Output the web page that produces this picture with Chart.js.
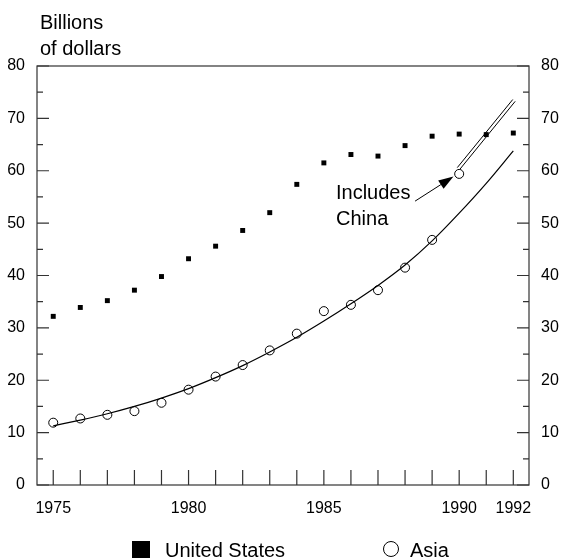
<!DOCTYPE html>
<html>
<head>
<meta charset="utf-8">
<script src="https://cdn.jsdelivr.net/npm/chart.js@4.4.1/dist/chart.umd.min.js"></script>
<style>
  html, body { margin: 0; padding: 0; background: #fff; }
  #wrap { width: 565px; height: 559px; }
</style>
</head>
<body>
<div id="wrap"><canvas id="chart" width="565" height="559"></canvas></div>
<script>
/* ── Data ── */
const years       = [1975, 1976, 1977, 1978, 1979, 1980, 1981, 1982, 1983, 1984, 1985, 1986, 1987, 1988, 1989, 1990, 1991, 1992];
const usValues    = [32.2, 33.9, 35.2, 37.2, 39.8, 43.2, 45.6, 48.6, 52.0, 57.4, 61.5, 63.1, 62.8, 64.8, 66.6, 67.0, 66.9, 67.2];
const asiaYears   = [1975, 1976, 1977, 1978, 1979, 1980, 1981, 1982, 1983, 1984, 1985, 1986, 1987, 1988, 1989, 1990];
const asiaValues  = [11.9, 12.7, 13.4, 14.1, 15.7, 18.2, 20.7, 22.9, 25.7, 28.9, 33.2, 34.4, 37.2, 41.5, 46.8, 59.4];
const trendValues = [11.3, 12.4, 13.6, 15.0, 16.6, 18.4, 20.5, 22.8, 25.4, 28.2, 31.3, 34.6, 38.1, 42.0, 46.6, 51.9, 57.6, 63.8];
// "Includes China" double segment
const chinaYears   = [1989.93, 1991.98];
const chinaValuesA = [60.6, 73.6];
const chinaYearsB  = [1990.02, 1992.07];
const chinaValuesB = [60.25, 73.25];
// arrow from label to the 1990 point
const arrowFrom = [1988.37, 54.2];
const arrowTo   = [1989.79, 58.9];

const xLabelYears = [1975, 1980, 1985, 1990, 1992];
const yTicks      = [0, 10, 20, 30, 40, 50, 60, 70, 80];
const yMinorTicks = [5, 15, 25, 35, 45, 55, 65, 75];

const FONT = "'Liberation Sans', Arial, sans-serif";
const INK  = '#000';
const AXIS = '#333';

const pts = (xs, ys) => xs.map((x, i) => ({ x, y: ys[i] }));

/* ── Frame, inward ticks, labels and legend ── */
const decor = {
  id: 'decor',
  beforeDatasetsDraw(chart) {
    const { ctx, chartArea: a, scales: { x, y } } = chart;
    ctx.save();
    ctx.strokeStyle = AXIS;
    ctx.lineWidth = 1.2;
    ctx.strokeRect(a.left, a.top, a.right - a.left, a.bottom - a.top);
    ctx.beginPath();
    yTicks.forEach(v => {
      const py = y.getPixelForValue(v);
      ctx.moveTo(a.left, py);  ctx.lineTo(a.left + 12, py);
      ctx.moveTo(a.right, py); ctx.lineTo(a.right - 12, py);
    });
    yMinorTicks.forEach(v => {
      const py = y.getPixelForValue(v);
      ctx.moveTo(a.left, py);  ctx.lineTo(a.left + 6, py);
      ctx.moveTo(a.right, py); ctx.lineTo(a.right - 6, py);
    });
    years.forEach(v => {
      const px = x.getPixelForValue(v);
      ctx.moveTo(px, a.bottom); ctx.lineTo(px, a.bottom - 15);
    });
    ctx.stroke();
    ctx.restore();
  },
  afterDatasetsDraw(chart) {
    const { ctx, scales: { x, y } } = chart;
    ctx.save();
    ctx.fillStyle = INK;
    ctx.strokeStyle = INK;
    ctx.font = '20px ' + FONT;
    ctx.textBaseline = 'alphabetic';

    // y title
    ctx.fillText('Billions', 40, 29);
    ctx.fillText('of dollars', 40, 55);

    // annotation
    ctx.fillText('Includes', 336, 199);
    ctx.fillText('China', 336, 225);

    // arrow
    const x0 = x.getPixelForValue(arrowFrom[0]), y0 = y.getPixelForValue(arrowFrom[1]);
    const x1 = x.getPixelForValue(arrowTo[0]),   y1 = y.getPixelForValue(arrowTo[1]);
    const ang = Math.atan2(y1 - y0, x1 - x0);
    const hl = 15, hw = 5;
    const bx = x1 - hl * Math.cos(ang), by = y1 - hl * Math.sin(ang);
    ctx.lineWidth = 1;
    ctx.beginPath();
    ctx.moveTo(x0, y0); ctx.lineTo(bx, by);
    ctx.stroke();
    ctx.beginPath();
    ctx.moveTo(x1, y1);
    ctx.lineTo(bx + hw * Math.sin(ang), by - hw * Math.cos(ang));
    ctx.lineTo(bx - hw * Math.sin(ang), by + hw * Math.cos(ang));
    ctx.closePath();
    ctx.fill();

    // legend
    ctx.fillRect(132, 541, 18, 17);
    ctx.fillText('United States', 165, 557);
    ctx.beginPath();
    ctx.arc(391, 549, 7.5, 0, Math.PI * 2);
    ctx.lineWidth = 1;
    ctx.stroke();
    ctx.fillText('Asia', 410, 557);
    ctx.restore();
  }
};

new Chart(document.getElementById('chart'), {
  type: 'scatter',
  data: {
    datasets: [
      {
        label: 'Asia trend',
        type: 'line',
        data: pts(years, trendValues),
        borderColor: INK,
        borderWidth: 1.2,
        pointRadius: 0,
        cubicInterpolationMode: 'monotone',
        fill: false,
      },
      {
        label: 'Includes China A',
        type: 'line',
        data: pts(chinaYears, chinaValuesA),
        borderColor: INK,
        borderWidth: 1,
        pointRadius: 0,
        fill: false,
      },
      {
        label: 'Includes China B',
        type: 'line',
        data: pts(chinaYearsB, chinaValuesB),
        borderColor: INK,
        borderWidth: 1,
        pointRadius: 0,
        fill: false,
      },
      {
        label: 'United States',
        data: pts(years, usValues),
        pointStyle: 'rect',
        pointRadius: 3.5,
        pointBorderWidth: 0,
        backgroundColor: INK,
        borderColor: INK,
      },
      {
        label: 'Asia',
        data: pts(asiaYears, asiaValues),
        pointStyle: 'circle',
        pointRadius: 4.5,
        pointBorderWidth: 1,
        backgroundColor: 'rgba(255,255,255,0)',
        borderColor: INK,
      },
    ],
  },
  options: {
    responsive: false,
    animation: false,
    devicePixelRatio: 1,
    layout: { padding: { top: 66, bottom: 0, left: 0, right: 0 } },
    plugins: { legend: { display: false }, tooltip: { enabled: false } },
    scales: {
      x: {
        type: 'linear',
        min: 1974.4,
        max: 1992.58,
        afterBuildTicks: s => { s.ticks = xLabelYears.map(v => ({ value: v })); },
        afterFit: s => { s.height = 74; },
        grid: { display: false, drawTicks: false },
        border: { display: false },
        ticks: {
          color: INK,
          font: { family: FONT, size: 16 },
          padding: 14,
          maxRotation: 0,
          autoSkip: false,
          callback: v => String(v),
        },
      },
      y: {
        position: 'left',
        min: 0,
        max: 80,
        afterBuildTicks: s => { s.ticks = yTicks.map(v => ({ value: v })); },
        afterFit: s => { s.width = 37; },
        grid: { display: false, drawTicks: false },
        border: { display: false },
        ticks: { color: INK, font: { family: FONT, size: 16 }, padding: 12 },
      },
      y2: {
        position: 'right',
        min: 0,
        max: 80,
        afterBuildTicks: s => { s.ticks = yTicks.map(v => ({ value: v })); },
        afterFit: s => { s.width = 36; },
        grid: { display: false, drawTicks: false },
        border: { display: false },
        ticks: { color: INK, font: { family: FONT, size: 16 }, padding: 12 },
      },
    },
  },
  plugins: [decor],
});
</script>
</body>
</html>
